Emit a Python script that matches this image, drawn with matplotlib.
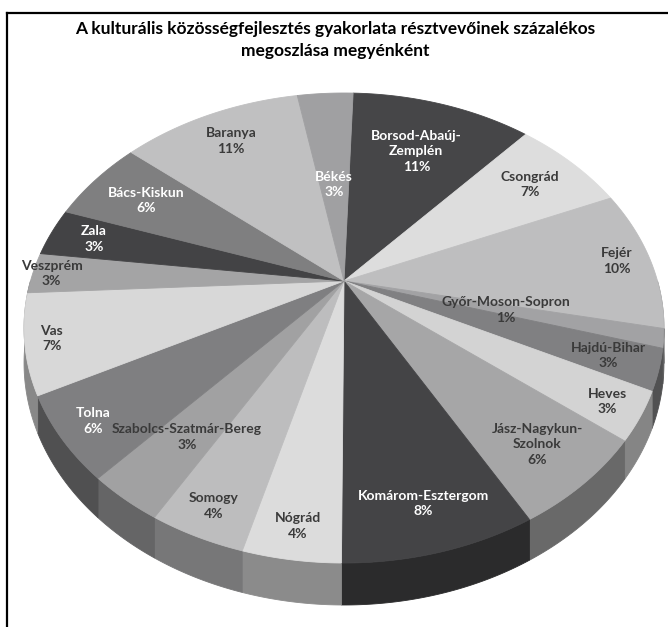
import numpy as np
import matplotlib
matplotlib.use("Agg")
import matplotlib.pyplot as plt
from matplotlib.patches import Polygon
from matplotlib.colors import to_rgb

# ---------------- data ----------------
counties = ["Borsod-Abaúj-\nZemplén", "Csongrád", "Fejér", "Győr-Moson-Sopron",
            "Hajdú-Bihar", "Heves", "Jász-Nagykun-\nSzolnok", "Komárom-Esztergom",
            "Nógrád", "Somogy", "Szabolcs-Szatmár-Bereg", "Tolna", "Vas",
            "Veszprém", "Zala", "Bács-Kiskun", "Baranya", "Békés"]
shares = [11.0, 6.9, 9.7, 1.3, 2.8, 3.3, 6.2, 8.2, 4.1, 4.1, 3.3, 5.7, 6.8,
          2.8, 3.3, 5.8, 11.0, 3.4]
title = ("A kulturális közösségfejlesztés gyakorlata résztvevőinek százalékos\n"
         "megoszlása megyénként")

# ---------------- style ----------------
colors = ["#464648", "#dddddd", "#bebebf", "#a2a2a4", "#808082", "#d3d3d3",
          "#a6a6a7", "#444446", "#dcdcdc", "#bdbdbe", "#a1a1a2", "#7f7f81",
          "#d8d8d8", "#a4a4a5", "#434345", "#7f7f80", "#c0c0c1", "#a0a0a2"]
label_colors = ["white", "#3a3a3a", "#3a3a3a", "#3a3a3a", "#3a3a3a", "#3a3a3a",
                "#3a3a3a", "white", "#3a3a3a", "#3a3a3a", "#3a3a3a", "white",
                "#3a3a3a", "#3a3a3a", "white", "white", "#3a3a3a", "white"]
label_r = [0.70, 0.80, 0.89, 0.52, 0.85, 0.90, 0.83, 0.85, 0.90, 0.90, 0.75,
           0.90, 0.92, 0.94, 0.85, 0.78, 0.82, 0.47]

W, H = 668, 627
fig = plt.figure(figsize=(W / 100, H / 100), dpi=100)
ax = fig.add_axes([0, 0, 1, 1])
ax.set_xlim(0, W)
ax.set_ylim(H, 0)
ax.axis("off")

# perspective pie geometry (pixel space)
cx, cy = 344.0, 281.0
a, b, p = 313.5, 225.6, 0.2
h0 = 33.6
start = 2.0


def proj(theta_deg, r=1.0):
    t = np.radians(theta_deg)
    X = r * np.sin(t)
    Y = r * np.cos(t)
    d = 1 + p * Y
    return cx + a * X / d, cy - b * Y / d, h0 / d


vals = np.array(shares, dtype=float)
spans = vals / vals.sum() * 360.0
edges = start + np.concatenate([[0], np.cumsum(spans)])


def darker(c, f):
    r, g, bb = to_rgb(c)
    return (r * f, g * f, bb * f)


# side walls (front half)
for i in range(len(vals)):
    lo, hi = max(edges[i], 90.0), min(edges[i + 1], 270.0)
    if lo >= hi:
        continue
    th = np.linspace(lo, hi, 80)
    x, y, h = proj(th)
    pts = np.concatenate([np.column_stack([x, y]),
                          np.column_stack([x, y + h])[::-1]])
    sc = darker(colors[i], 0.63)
    ax.add_patch(Polygon(pts, closed=True, facecolor=sc, edgecolor=sc,
                         linewidth=0.6, zorder=1))

# top faces
for i in range(len(vals)):
    th = np.linspace(edges[i], edges[i + 1], 120)
    x, y, _ = proj(th)
    pts = np.concatenate([[[cx, cy]], np.column_stack([x, y])])
    ax.add_patch(Polygon(pts, closed=True, facecolor=colors[i],
                         edgecolor=colors[i], linewidth=0.6, zorder=2))

# labels
for i in range(len(vals)):
    mid = (edges[i] + edges[i + 1]) / 2
    lx, ly, _ = proj(mid, label_r[i])
    pct = vals[i] / vals.sum() * 100
    ax.text(lx, ly, f"{counties[i]}\n{pct:.0f}%", ha="center", va="center",
            fontsize=10, fontweight="bold", family="Lato",
            color=label_colors[i], linespacing=1.35, zorder=5)

# title
ax.text(335, 40, title, ha="center", va="center", fontsize=12.5,
        fontweight="bold", family="Lato", color="black", linespacing=1.45,
        zorder=5)

# chart frame (cropped: only top and left edges visible)
ax.plot([7, W + 5], [13, 13], color="black", linewidth=1.6, zorder=6,
        solid_capstyle="projecting")
ax.plot([7, 7], [13, H + 5], color="black", linewidth=1.6, zorder=6,
        solid_capstyle="projecting")

fig.savefig("out.png", dpi=100, facecolor="white")
